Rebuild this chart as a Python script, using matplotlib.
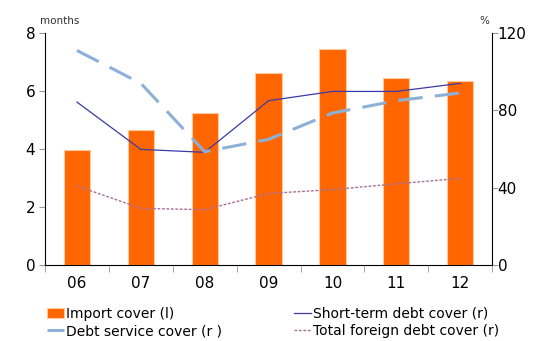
import matplotlib.pyplot as plt
import numpy as np

years = ["06", "07", "08", "09", "10", "11", "12"]
import_cover = [3.97, 4.66, 5.24, 6.62, 7.46, 6.44, 6.33]
short_term = [84.3, 59.8, 58.3, 85.0, 89.8, 89.8, 94.0]
debt_service = [111.0, 94.0, 58.6, 65.0, 78.6, 85.0, 89.0]
total_foreign = [40.9, 29.3, 28.6, 37.0, 39.0, 42.0, 44.8]

plt.rcParams['font.family'] = ['DejaVu Sans']
fig = plt.figure(figsize=(5.33, 3.41), dpi=100)
ax = fig.add_axes([0.0844, 0.223, 0.839, 0.680])
ax2 = ax.twinx()

x = np.arange(len(years))
bars = ax.bar(x, import_cover, width=0.41, color="#FF6600", edgecolor="#FFC8A0",
              linewidth=0.8, label="Import cover (l)", zorder=2)
ax.set_ylim(0, 8)
ax.set_xlim(-0.5, len(years) - 0.5)
ax.set_yticks([0, 2, 4, 6, 8])

l1, = ax2.plot(x, short_term, color="#3A3AA8", lw=0.9, label="Short-term debt cover (r)")
l2, = ax2.plot(x, debt_service, color="#8CB0D6", lw=2.2, dashes=(8, 4),
               label="Debt service cover (r )")
l3, = ax2.plot(x, total_foreign, color="#A87098", lw=1.0, dashes=(2, 1.2),
               label="Total foreign debt cover (r)")
ax2.set_ylim(0, 120)
ax2.set_yticks([0, 40, 80, 120])

# category labels centred, tick marks between categories
ax.set_xticks(x)
ax.set_xticklabels(years)
ax.tick_params(axis="x", length=0, pad=8, labelsize=11)
ax.set_xticks(np.arange(-0.5, len(years)), minor=True)
ax.tick_params(axis="x", which="minor", length=5, color="#999999", direction="out")

ax.tick_params(axis="y", length=4, color="#999999", labelsize=11, pad=3)
ax2.tick_params(axis="y", length=4, color="#999999", labelsize=11, pad=0)

for a in (ax, ax2):
    a.spines["top"].set_visible(False)
    a.spines["left"].set_color("black")
    a.spines["right"].set_color("black")
    a.spines["bottom"].set_color("black")
ax.spines["right"].set_visible(False)
ax2.spines["left"].set_visible(False)
ax2.spines["bottom"].set_visible(False)

fig.text(0.075, 0.93, "months", fontsize=7.5, color="#333333")
fig.text(0.900, 0.93, "%", fontsize=7.5, color="#333333")

# column-wise fill: left column bar + debt service, right column the thin lines
handles = [bars, l2, l1, l3]
fig.legend(handles, [h.get_label() for h in handles], loc="lower left",
           bbox_to_anchor=(0.07, -0.02), ncol=2, frameon=False, fontsize=10,
           handlelength=1.2, handletextpad=0.15, columnspacing=5.2,
           labelspacing=0.25, borderpad=0.2)

fig.savefig("out.png", dpi=100)
